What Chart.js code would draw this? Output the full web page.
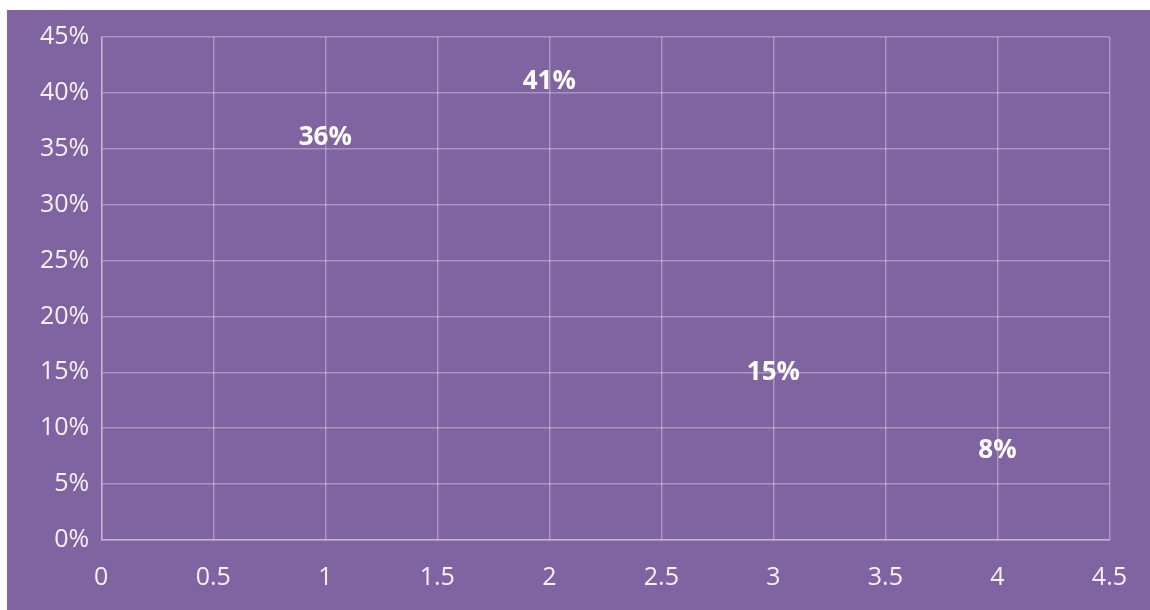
<!DOCTYPE html>
<html>
<head>
<meta charset="utf-8">
<script src="https://cdn.jsdelivr.net/npm/chart.js@4.4.1/dist/chart.umd.min.js"></script>
<style>
  body { margin: 0; background: #fff; }
  #wrap { position: absolute; left: 7px; top: 10px; width: 1143px; height: 600px; background: #8064a2; }
</style>
</head>
<body>
<div id="wrap"><canvas id="chart"></canvas></div>
<script>
// podatki
const xValues = [1, 2, 3, 4];
const yValues = [0.36, 0.41, 0.15, 0.08];
const pointLabels = ['36%', '41%', '15%', '8%'];

const gridColor = 'rgba(255, 255, 255, 0.32)';
const tickColor = '#f4f0f8';
const fontFamily = '"Open Sans", "Noto Sans", sans-serif';

// napisi na tockah
const labelPlugin = {
  id: 'pointLabels',
  afterDatasetsDraw(chart) {
    const ctx = chart.ctx;
    const xs = chart.scales.x;
    const ys = chart.scales.y;
    ctx.save();
    ctx.fillStyle = '#ffffff';
    ctx.font = 'bold 26px ' + fontFamily;
    ctx.textAlign = 'center';
    ctx.textBaseline = 'middle';
    xValues.forEach((xv, i) => {
      ctx.fillText(pointLabels[i], xs.getPixelForValue(xv), ys.getPixelForValue(yValues[i]));
    });
    ctx.restore();
  }
};

new Chart(document.getElementById('chart'), {
  type: 'scatter',
  data: {
    datasets: [{
      data: xValues.map((x, i) => ({ x: x, y: yValues[i] })),
      pointRadius: 0,
      pointHoverRadius: 0,
      showLine: false
    }]
  },
  options: {
    responsive: true,
    maintainAspectRatio: false,
    animation: false,
    layout: { padding: { top: 22, right: 32, bottom: 0, left: 21 } },
    plugins: {
      legend: { display: false },
      tooltip: { enabled: false }
    },
    scales: {
      x: {
        type: 'linear',
        min: 0,
        max: 4.5,
        afterFit: scale => { scale.height = 70; },
        ticks: {
          stepSize: 0.5,
          color: tickColor,
          font: { family: fontFamily, size: 25 },
          padding: 23,
          callback: v => String(Number(v.toFixed(1)))
        },
        grid: { color: gridColor, lineWidth: 1.5, drawTicks: false },
        border: { color: gridColor, width: 1.5 }
      },
      y: {
        min: 0,
        max: 0.45,
        ticks: {
          stepSize: 0.05,
          color: tickColor,
          font: { family: fontFamily, size: 25 },
          padding: 12,
          callback: v => Math.round(v * 100) + '%'
        },
        grid: { color: gridColor, lineWidth: 1.5, drawTicks: false },
        border: { color: gridColor, width: 1.5 }
      }
    }
  },
  plugins: [labelPlugin]
});
</script>
</body>
</html>
